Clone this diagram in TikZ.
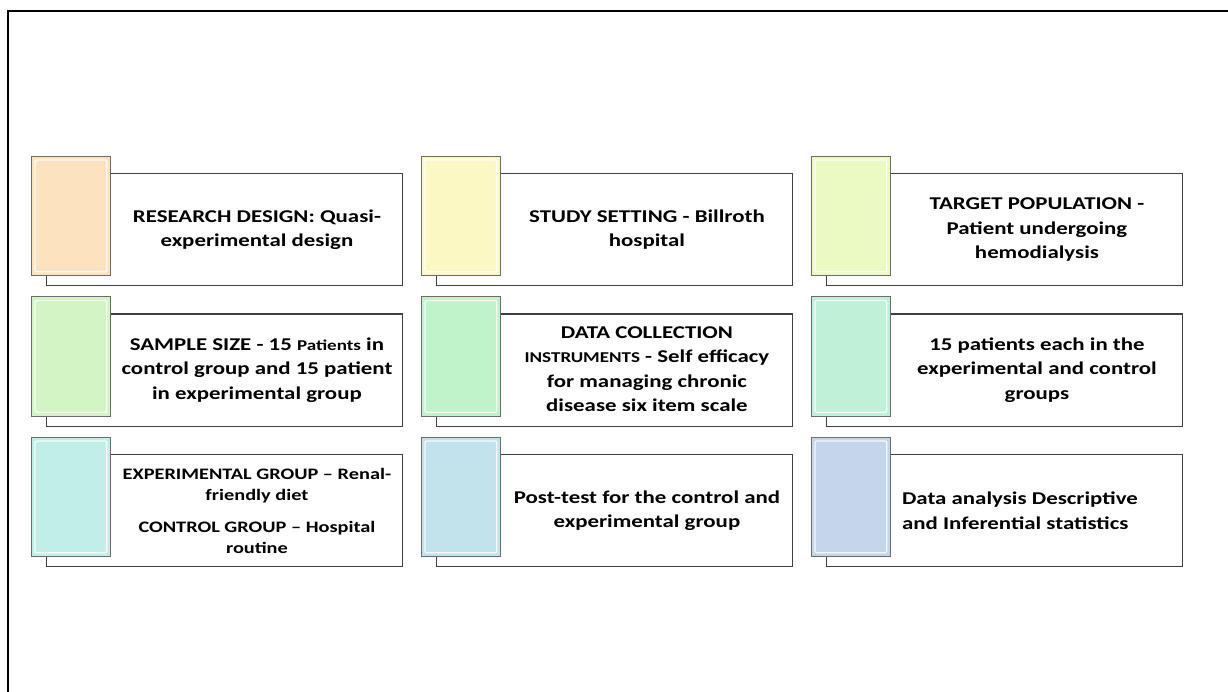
\documentclass[tikz,border=0pt]{standalone}
\usepackage{fontspec}
\setmainfont{Carlito}[FakeStretch=1.27]
\usetikzlibrary{positioning,calc}

% tab colours, row by row
\definecolor{kPeach}{HTML}{FDE2C0}
\definecolor{kLemon}{HTML}{FBF8C4}
\definecolor{kLime}{HTML}{EBF9C3}
\definecolor{kMoss}{HTML}{D3F5C6}
\definecolor{kMint}{HTML}{C0F3C9}
\definecolor{kSea}{HTML}{C1F0D9}
\definecolor{kAqua}{HTML}{C1EEE7}
\definecolor{kSky}{HTML}{C3E3EC}
\definecolor{kSteel}{HTML}{C5D5EC}
\definecolor{kEdge}{HTML}{404040}

\tikzset{
  tabbox/.style={draw=gray!85!black, line width=0.8pt, minimum width=79pt,
    minimum height=119pt, inner sep=0pt, anchor=north west},
  infobox/.style={draw=kEdge, line width=1.1pt, fill=white, minimum width=356pt,
    minimum height=112pt, inner sep=0pt, anchor=north west},
  infotext/.style={font=\bfseries\fontsize{18}{24.5}\selectfont, align=center,
    inner sep=0pt, text=black},
  sheen/.style={white, line width=1.3pt, opacity=0.85, rounded corners=2pt},
}

\begin{document}
\begin{tikzpicture}[x=1pt,y=-1pt]
  \useasboundingbox (0,0) rectangle (1228,692);
  % page frame
  \draw[line width=1.6pt] (8,692) -- (8,11) -- (1228,11);

  % tabs and boxes
  \foreach \col/\row/\shade in {0/0/kPeach,1/0/kLemon,2/0/kLime,
      0/1/kMoss,1/1/kMint,2/1/kSea,0/2/kAqua,1/2/kSky,2/2/kSteel} {
    \node[infobox] (box\col\row) at (46+390*\col,173+140.5*\row) {};
    \node[tabbox,fill=\shade] (tab\col\row) at (31+390*\col,156+140.5*\row) {};
    \draw[sheen] ([shift={(4,4)}]tab\col\row.north west)
      rectangle ([shift={(-4,-4)}]tab\col\row.south east);
    \coordinate (mid\col\row) at ($(tab\col\row.east |- box\col\row.center)!0.5!(box\col\row.east)$);
  };

  % texts
  \node[infotext] (txt00) at (mid00) {RESEARCH DESIGN: Quasi-\\experimental design};
  \node[infotext] (txt10) at (mid10) {STUDY SETTING - Billroth\\hospital};
  \node[infotext] (txt20) at (mid20) {TARGET POPULATION -\\Patient undergoing\\hemodialysis};
  \node[infotext] (txt01) at (mid01) {SAMPLE SIZE - 15 {\fontsize{15}{24.5}\selectfont Patients} in\\
    control group and 15 patient\\in experimental group};
  \node[infotext] (txt11) at ([yshift=1pt]mid11) {DATA COLLECTION\\
    {\fontsize{15}{24.5}\selectfont INSTRUMENTS} - Self efficacy\\for managing chronic\\disease six item scale};
  \node[infotext] (txt21) at (mid21) {15 patients each in the\\experimental and control\\groups};
  \node[infotext,font=\bfseries\fontsize{16}{21}\selectfont] (txt02) at (mid02)
    {EXPERIMENTAL GROUP – Renal-\\friendly diet\\[11pt]CONTROL GROUP – Hospital\\routine};
  \node[infotext] (txt12) at (mid12) {Post-test for the control and\\experimental group};
  \node[infotext,align=left,anchor=west] (txt22) at ([xshift=11pt]tab22.east |- box22.center)
    {Data analysis Descriptive\\and Inferential statistics};
\end{tikzpicture}
\end{document}
